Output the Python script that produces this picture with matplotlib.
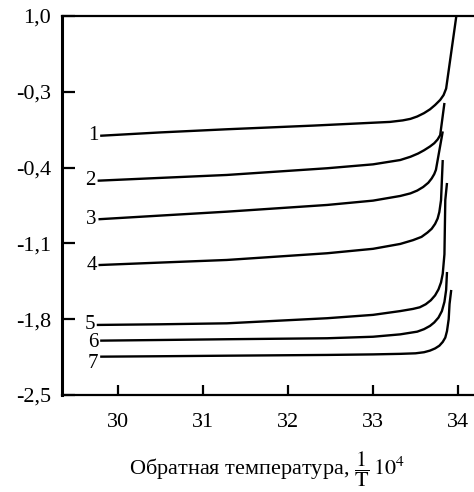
import matplotlib
matplotlib.use('Agg')
import matplotlib.pyplot as plt

plt.rcParams['font.family'] = ['Liberation Serif', 'DejaVu Serif']
plt.rcParams['mathtext.fontset'] = 'stix'

# curve data (x = 1/T*10^4)
x1 = [29.79, 30.5, 31.28, 32.3, 33.2, 33.35, 33.44, 33.52, 33.6, 33.67, 33.73, 33.79, 33.83, 33.86, 33.98]
y1 = [-0.106, -0.075, -0.046, -0.012, 0.022, 0.036, 0.05, 0.072, 0.103, 0.138, 0.178, 0.225, 0.27, 0.33, 1.0]

x2 = [29.76, 30.5, 31.28, 32.46, 33.0, 33.32, 33.44, 33.53, 33.6, 33.67, 33.72, 33.76, 33.79, 33.84]
y2 = [-0.521, -0.495, -0.468, -0.406, -0.37, -0.33, -0.3, -0.27, -0.24, -0.205, -0.175, -0.14, -0.1, 0.197]

x3 = [29.77, 30.5, 31.28, 32.46, 33.0, 33.32, 33.44, 33.52, 33.59, 33.65, 33.69, 33.72, 33.74, 33.82]
y3 = [-0.877, -0.843, -0.807, -0.745, -0.705, -0.662, -0.638, -0.612, -0.579, -0.54, -0.5, -0.46, -0.42, -0.066]

x4 = [29.77, 30.5, 31.28, 32.46, 33.0, 33.32, 33.47, 33.57, 33.64, 33.69, 33.73, 33.76, 33.78, 33.8, 33.82]
y4 = [-1.30, -1.277, -1.253, -1.191, -1.15, -1.105, -1.07, -1.04, -1.0, -0.965, -0.92, -0.87, -0.81, -0.7, -0.33]

x5 = [29.75, 30.5, 31.28, 32.46, 33.0, 33.32, 33.47, 33.55, 33.62, 33.68, 33.73, 33.77, 33.8, 33.82, 33.84, 33.85, 33.87]
y5 = [-1.853, -1.847, -1.838, -1.791, -1.76, -1.725, -1.705, -1.69, -1.662, -1.625, -1.58, -1.525, -1.46, -1.38, -1.2, -0.70, -0.542]

x6 = [29.79, 30.5, 31.28, 32.46, 33.0, 33.32, 33.52, 33.6, 33.67, 33.72, 33.77, 33.81, 33.84, 33.86, 33.87]
y6 = [-1.998, -1.992, -1.985, -1.976, -1.962, -1.94, -1.915, -1.892, -1.862, -1.83, -1.785, -1.725, -1.64, -1.53, -1.364]

x7 = [29.79, 30.5, 31.28, 32.46, 33.0, 33.32, 33.5, 33.6, 33.67, 33.73, 33.78, 33.82, 33.85, 33.87, 33.89, 33.9, 33.92]
y7 = [-2.146, -2.142, -2.137, -2.13, -2.125, -2.12, -2.115, -2.105, -2.09, -2.07, -2.045, -2.01, -1.97, -1.91, -1.8, -1.66, -1.53]

curves = [(x1, y1), (x2, y2), (x3, y3), (x4, y4), (x5, y5), (x6, y6), (x7, y7)]
curve_names = ['1', '2', '3', '4', '5', '6', '7']
label_dy = [0, 0, 0, 0, 0, -0.02, -0.06]

xticks = [30, 31, 32, 33, 34]
yticks = [1.0, 0.3, -0.4, -1.1, -1.8, -2.5]
ytick_labels = ['1,0', '-0,3', '-0,4', '-1,1', '-1,8', '-2,5']

fig = plt.figure(figsize=(4.74, 4.92), dpi=100)
ax = fig.add_axes([62/474, 1 - 395/492, 411/474, 379/492])

for (x, y), name, dy in zip(curves, curve_names, label_dy):
    ax.plot(x, y, color='black', lw=1.7, solid_capstyle='butt', solid_joinstyle='round')
    ax.text(x[0] - 0.02, y[0] + dy, name, ha='right', va='center', fontsize=15)

ax.set_xlim(29.341, 34.176)
ax.set_ylim(-2.5, 1.0)
ax.set_xticks(xticks)
ax.set_xticklabels([str(t) for t in xticks])
ax.set_yticks(yticks)
ax.set_yticklabels(ytick_labels)

ax.tick_params(axis='both', direction='in', labelsize=16, width=1.6, color='black')
ax.tick_params(axis='x', length=7, pad=13)
ax.tick_params(axis='y', length=9, pad=8)

ax.spines['right'].set_visible(False)
ax.spines['left'].set_linewidth(2.2)
ax.spines['bottom'].set_linewidth(1.6)
ax.spines['top'].set_linewidth(1.6)

ax.set_xlabel(r'Обратная температура, $\dfrac{1}{\mathrm{T}}\,10^4$', fontsize=16, labelpad=12)

fig.savefig('out.png', dpi=100)
